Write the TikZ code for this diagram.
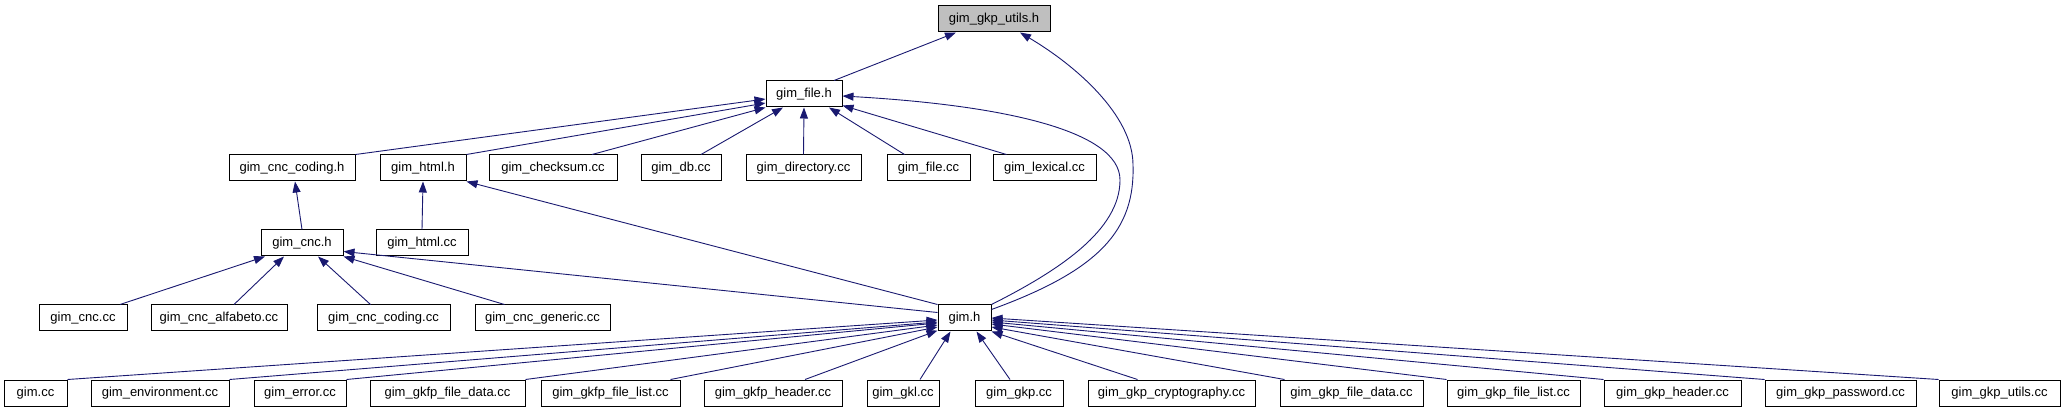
\documentclass[tikz,border=0pt]{standalone}
\usepackage{fontspec}
\setmainfont{Liberation Sans}
\usepackage{tikz}
\usetikzlibrary{arrows.meta,positioning}
\definecolor{edgeblue}{HTML}{191970}
\definecolor{curgray}{HTML}{BFBFBF}
\tikzset{
  file/.style={draw=black, fill=white, line width=1pt, minimum height=26pt,
               inner sep=0pt, font=\fontsize{13}{15}\selectfont},
  curfile/.style={file, fill=curgray},
  dep/.style={-{Triangle[length=11pt,width=8pt]}, line width=0.9pt, draw=edgeblue}
}
\begin{document}
\begin{tikzpicture}[x=1pt,y=-1pt]
  \useasboundingbox (0,0) rectangle (2063,411);

  \node[curfile, minimum width=112pt] (gkp_utils_h) at (994,19) {gim\_gkp\_utils.h};
  \node[file, minimum width=76pt] (file_h) at (804,94) {gim\_file.h};

  \node[file, minimum width=126pt] (cnc_coding_h) at (292,168) {gim\_cnc\_coding.h};
  \node[file, minimum width=86pt] (html_h) at (423,168) {gim\_html.h};
  \node[file, minimum width=128pt] (checksum_cc) at (553,168) {gim\_checksum.cc};
  \node[file, minimum width=80pt] (db_cc) at (681,168) {gim\_db.cc};
  \node[file, minimum width=115pt] (directory_cc) at (803.5,168) {gim\_directory.cc};
  \node[file, minimum width=83pt] (file_cc) at (928.5,168) {gim\_file.cc};
  \node[file, minimum width=103pt] (lexical_cc) at (1044.5,168) {gim\_lexical.cc};

  \node[file, minimum width=82pt] (cnc_h) at (302,243) {gim\_cnc.h};
  \node[file, minimum width=92pt] (html_cc) at (422,243) {gim\_html.cc};

  \node[file, minimum width=88pt] (cnc_cc) at (83,318) {gim\_cnc.cc};
  \node[file, minimum width=136pt] (cnc_alfabeto_cc) at (219,318) {gim\_cnc\_alfabeto.cc};
  \node[file, minimum width=133pt] (cnc_coding_cc) at (383.5,318) {gim\_cnc\_coding.cc};
  \node[file, minimum width=135pt] (cnc_generic_cc) at (542.5,318) {gim\_cnc\_generic.cc};
  \node[file, minimum width=53pt] (gim_h) at (964.5,318) {gim.h};

  \node[file, minimum width=63pt] (gim_cc) at (35.5,393) {gim.cc};
  \node[file, minimum width=138pt] (environment_cc) at (160,393) {gim\_environment.cc};
  \node[file, minimum width=92pt] (error_cc) at (300,393) {gim\_error.cc};
  \node[file, minimum width=155pt] (gkfp_file_data_cc) at (447.5,393) {gim\_gkfp\_file\_data.cc};
  \node[file, minimum width=139pt] (gkfp_file_list_cc) at (610.5,393) {gim\_gkfp\_file\_list.cc};
  \node[file, minimum width=138pt] (gkfp_header_cc) at (773,393) {gim\_gkfp\_header.cc};
  \node[file, minimum width=72pt] (gkl_cc) at (903,393) {gim\_gkl.cc};
  \node[file, minimum width=88pt] (gkp_cc) at (1019,393) {gim\_gkp.cc};
  \node[file, minimum width=167pt] (gkp_cryptography_cc) at (1171.5,393) {gim\_gkp\_cryptography.cc};
  \node[file, minimum width=143pt] (gkp_file_data_cc) at (1351.5,393) {gim\_gkp\_file\_data.cc};
  \node[file, minimum width=133pt] (gkp_file_list_cc) at (1513.5,393) {gim\_gkp\_file\_list.cc};
  \node[file, minimum width=137pt] (gkp_header_cc) at (1672.5,393) {gim\_gkp\_header.cc};
  \node[file, minimum width=151pt] (gkp_password_cc) at (1840.5,393) {gim\_gkp\_password.cc};
  \node[file, minimum width=121pt] (gkp_utils_cc) at (1999.5,393) {gim\_gkp\_utils.cc};

  \draw[dep] ([xshift=30pt]file_h.north) -- ([xshift=-38pt]gkp_utils_h.south);
  \draw[dep] ([yshift=-5pt]gim_h.north east) .. controls (1100,270) and (1135,230) .. (1133,165)
             .. controls (1133,115) and (1075,65) .. ([xshift=26pt]gkp_utils_h.south);

  \draw[dep] (cnc_coding_h.north east) -- ([yshift=-5pt]file_h.west);
  \draw[dep] (html_h.north east) -- ([yshift=-9pt]file_h.west);
  \draw[dep] ([xshift=39pt]checksum_cc.north) -- (file_h.south west);
  \draw[dep] ([xshift=20pt]db_cc.north) -- ([xshift=-21pt]file_h.south);
  \draw[dep] (directory_cc.north) -- (file_h.south);
  \draw[dep] ([xshift=-24pt]file_cc.north) -- ([xshift=25pt]file_h.south);
  \draw[dep] ([xshift=-38pt]lexical_cc.north) -- ([yshift=2pt]file_h.south east);
  \draw[dep] (gim_h.north east) .. controls (1060,270) and (1120,230) .. (1120,180)
             .. controls (1120,130) and (1000,105) .. ([yshift=-2pt]file_h.east);

  \draw[dep] (cnc_h.north) -- ([xshift=3pt]cnc_coding_h.south);
  \draw[dep] (html_cc.north) -- (html_h.south);
  \draw[dep] (gim_h.north west) -- (html_h.south east);

  \draw[dep] ([xshift=37pt]cnc_cc.north) -- ([xshift=-37pt]cnc_h.south);
  \draw[dep] ([xshift=15pt]cnc_alfabeto_cc.north) -- ([xshift=-18pt]cnc_h.south);
  \draw[dep] ([xshift=-13pt]cnc_coding_cc.north) -- ([xshift=16pt]cnc_h.south);
  \draw[dep] ([xshift=-38pt]cnc_generic_cc.north) -- (cnc_h.south east);
  \draw[dep] ([yshift=-8pt]gim_h.north west) -- ([yshift=5pt]cnc_h.south east);

  \draw[dep] (gim_cc.north east) -- ([yshift=-2pt]gim_h.west);
  \draw[dep] (environment_cc.north east) -- ([yshift=-4pt]gim_h.west);
  \draw[dep] (error_cc.north east) -- ([yshift=-5pt]gim_h.west);
  \draw[dep] (gkfp_file_data_cc.north east) -- ([yshift=-7pt]gim_h.west);
  \draw[dep] ([xshift=60pt]gkfp_file_list_cc.north) -- ([yshift=-9pt]gim_h.west);
  \draw[dep] ([xshift=32pt]gkfp_header_cc.north) -- ([yshift=1pt]gim_h.south west);
  \draw[dep] ([xshift=17pt]gkl_cc.north) -- ([xshift=-14pt]gim_h.south);
  \draw[dep] ([xshift=-9pt]gkp_cc.north) -- ([xshift=12pt]gim_h.south);
  \draw[dep] ([xshift=-34pt]gkp_cryptography_cc.north) -- (gim_h.south east);
  \draw[dep] ([xshift=5pt]gkp_file_data_cc.north west) -- ([yshift=-9pt]gim_h.east);
  \draw[dep] (gkp_file_list_cc.north west) -- ([yshift=-6pt]gim_h.east);
  \draw[dep] (gkp_header_cc.north west) -- ([yshift=-4pt]gim_h.east);
  \draw[dep] (gkp_password_cc.north west) -- ([yshift=-2pt]gim_h.east);
  \draw[dep] (gkp_utils_cc.north west) -- (gim_h.east);
\end{tikzpicture}
\end{document}
